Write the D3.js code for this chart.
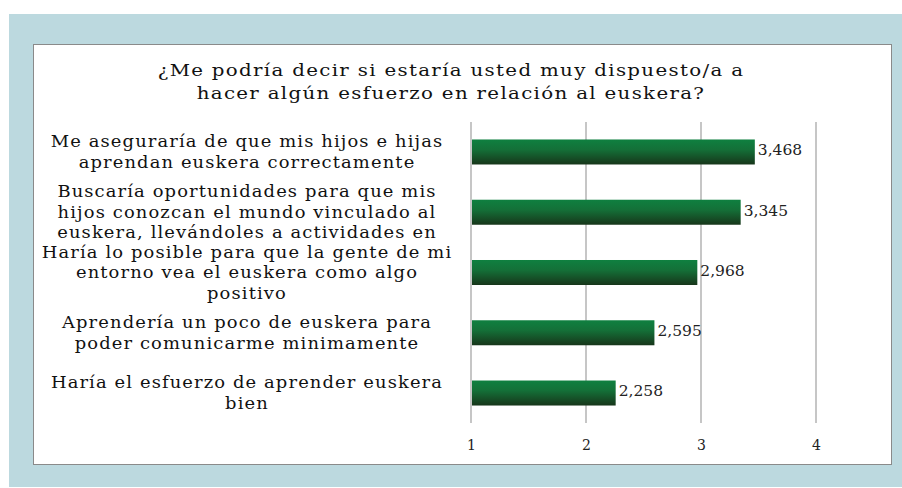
<!DOCTYPE html>
<html>
<head>
<meta charset="utf-8">
<script src="https://cdn.jsdelivr.net/npm/d3@7"></script>
<style>
  body { margin: 0; background: #fff; }
</style>
</head>
<body>
<div id="grafico"></div>
<script>
// Datos
const tituloLineas = [
    "¿Me podría decir si estaría usted muy dispuesto/a a",
    "hacer algún esfuerzo en relación al euskera?"
];

const categorias = [
    ["Me aseguraría de que mis hijos e hijas", "aprendan euskera correctamente"],
    ["Buscaría oportunidades para que mis", "hijos conozcan el mundo vinculado al", "euskera, llevándoles a actividades en"],
    ["Haría lo posible para que la gente de mi", "entorno vea el euskera como algo", "positivo"],
    ["Aprendería un poco de euskera para", "poder comunicarme minimamente"],
    ["Haría el esfuerzo de aprender euskera", "bien"]
];

const valores = [3.468, 3.345, 2.968, 2.595, 2.258];
const ticks = [1, 2, 3, 4];

const svgWidth = 902, svgHeight = 488;
const fuente = "DejaVu Serif, serif";

const svg = d3.select("#grafico")
    .append("svg")
    .attr("width", svgWidth)
    .attr("height", svgHeight);

// Degradado de las barras
const defs = svg.append("defs");
const grad = defs.append("linearGradient")
    .attr("id", "verde")
    .attr("x1", 0).attr("y1", 0).attr("x2", 0).attr("y2", 1);
grad.append("stop").attr("offset", "0%").attr("stop-color", "#0f8040");
grad.append("stop").attr("offset", "40%").attr("stop-color", "#147038");
grad.append("stop").attr("offset", "100%").attr("stop-color", "#17361a");

// Fondo azul y panel blanco
svg.append("rect")
    .attr("x", 9).attr("y", 14)
    .attr("width", svgWidth - 9).attr("height", 473)
    .attr("fill", "#bcd9df");

svg.append("rect")
    .attr("x", 33.5).attr("y", 44.5)
    .attr("width", 858).attr("height", 420)
    .attr("fill", "#fff")
    .attr("stroke", "#8a8a8a")
    .attr("stroke-width", 1);

// Titulo
svg.append("text")
    .attr("transform", "translate(451, 0) scale(1.2, 1)")
    .attr("text-anchor", "middle")
    .attr("font-family", fuente)
    .attr("font-size", 16.5)
    .attr("letter-spacing", 1.1)
    .attr("fill", "#111")
    .selectAll("tspan")
    .data(tituloLineas)
    .join("tspan")
    .attr("x", 0)
    .attr("y", (d, i) => 76 + i * 23)
    .text(d => d);

// Escalas
const margin = { top: 122, left: 471, right: 86, bottom: 65 };
const width = 816 - margin.left;
const height = 423 - margin.top;

const g = svg.append("g")
    .attr("transform", `translate(${margin.left}, ${margin.top})`);

const x = d3.scaleLinear()
    .domain([1, 4])
    .range([0, width]);

const y = d3.scaleBand()
    .domain(d3.range(valores.length))
    .range([0, height])
    .paddingInner(0.585)
    .paddingOuter(0.29);

// Rejilla
g.append("g")
    .selectAll("line")
    .data(ticks)
    .join("line")
    .attr("x1", d => x(d)).attr("x2", d => x(d))
    .attr("y1", 0).attr("y2", height)
    .attr("stroke", "#b3b3b3")
    .attr("stroke-width", 1.5);

// Eje x
const eje = g.append("g")
    .attr("transform", `translate(0, ${height})`)
    .call(d3.axisBottom(x).tickValues(ticks).tickFormat(d3.format("d")).tickSize(0).tickPadding(17));
eje.select(".domain").remove();
eje.selectAll("text")
    .attr("font-family", fuente)
    .attr("font-size", 14)
    .attr("fill", "#222");

// Barras
g.selectAll(".barra")
    .data(valores)
    .join("rect")
    .attr("class", "barra")
    .attr("x", x(1) + 1)
    .attr("y", (d, i) => y(i))
    .attr("width", d => x(d) - x(1) - 1)
    .attr("height", y.bandwidth())
    .attr("fill", "url(#verde)");

// Etiquetas de valor
const fmt = d => d3.format(".3f")(d).replace(".", ",");
g.selectAll(".valor")
    .data(valores)
    .join("text")
    .attr("class", "valor")
    .attr("x", d => x(d) + 3)
    .attr("y", (d, i) => y(i) + y.bandwidth() / 2 - 2)
    .attr("dy", "0.35em")
    .attr("font-family", fuente)
    .attr("font-size", 15.5)
    .attr("fill", "#222")
    .text(fmt);

// Etiquetas de categoria
const etiquetas = svg.append("g");
categorias.forEach((lineas, i) => {
    const cy = margin.top + y(i) + y.bandwidth() / 2;
    const lh = 20.5;
    etiquetas.append("text")
        .attr("transform", "translate(247, 0) scale(1.12, 1)")
        .attr("text-anchor", "middle")
        .attr("font-family", fuente)
        .attr("font-size", 16)
        .attr("letter-spacing", 1)
        .attr("fill", "#111")
        .selectAll("tspan")
        .data(lineas)
        .join("tspan")
        .attr("x", 0)
        .attr("y", (d, j) => cy + (j - (lineas.length - 1) / 2) * lh)
        .attr("dy", "0.35em")
        .text(d => d);
});
</script>
</body>
</html>
